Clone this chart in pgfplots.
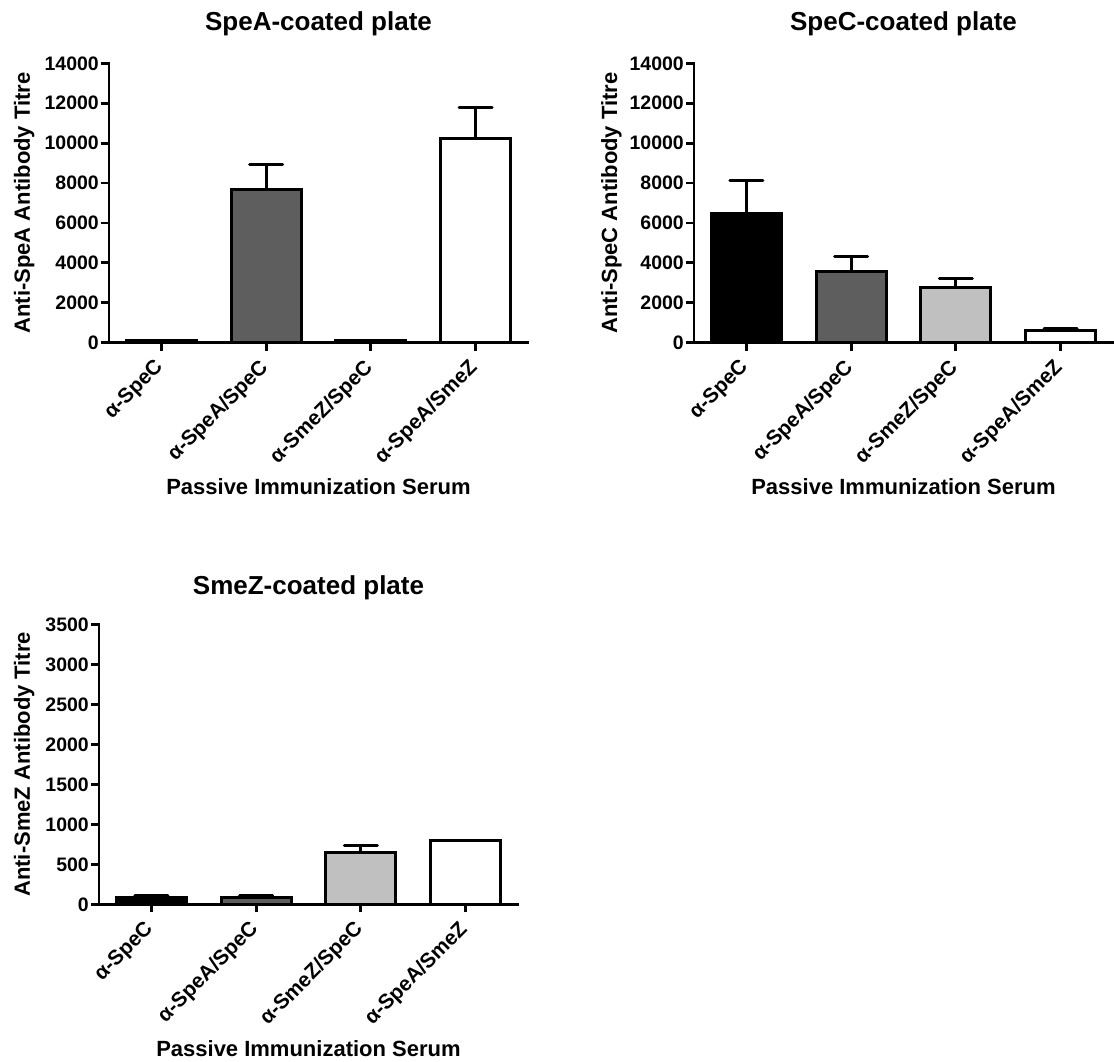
\documentclass[border=0pt]{standalone}
\usepackage{fontspec}
\setmainfont{Liberation Sans}
\usepackage{pgfplots}
\pgfplotsset{compat=1.18}
\definecolor{dg}{HTML}{5E5E5E}
\definecolor{lg}{HTML}{C0C0C0}

\pgfplotsset{
  panel/.style={
    scale only axis, width=419pt, height=279.4pt,
    axis lines=left, axis line style={-, line width=2.8pt, line cap=rect},
    xmin=-0.5, xmax=3.5, ymin=0,
    xtick={0,1,2,3},
    xticklabels={α-SpeC, α-SpeA/SpeC, α-SmeZ/SpeC, α-SpeA/SmeZ},
    tick style={line width=2.8pt, black},
    major tick length=8pt, tick align=outside,
    scaled y ticks=false,
    /pgf/number format/assume math mode=true,
    /pgf/number format/1000 sep={},
    yticklabel style={font=\fontsize{19.5}{19.5}\selectfont\bfseries, inner sep=2pt},
    xticklabel style={rotate=45, anchor=north east, inner sep=1pt, yshift=1.8pt, xshift=-9.6pt, font=\fontsize{20.8}{20.8}\selectfont\bfseries},
    title style={font=\fontsize{26}{26}\selectfont\bfseries, anchor=base},
    xlabel style={font=\fontsize{22}{22}\selectfont\bfseries, at={([yshift=-152pt]rel axis cs:0.5,0)}, anchor=base},
    ylabel style={font=\fontsize{22}{22}\selectfont\bfseries, anchor=base},
    xlabel={Passive Immunization Serum},
    clip=false,
  },
  bars/.style={ybar, bar shift=0pt, bar width=0.67, draw=black, line width=3pt,
    /pgfplots/error bars/y dir=plus, /pgfplots/error bars/y explicit,
    /pgfplots/error bars/error mark=|,
    /pgfplots/error bars/error bar style={line width=3pt, draw=black},
    /pgfplots/error bars/error mark options={line width=3pt, mark size=16.5pt, draw=black, line cap=round}},
}

\begin{document}
\begin{tikzpicture}
\path[use as bounding box] (0pt,0pt) rectangle (1114pt,-1061pt);

% Panel 1
\begin{axis}[panel, at={(109pt,-342.7pt)}, anchor=south west,
  ymax=14000, ytick={0,2000,4000,6000,8000,10000,12000,14000},
  title={SpeA-coated plate}, title style={at={([yshift=27pt]rel axis cs:0.5,1)}},
  ylabel={Anti-SpeA Antibody Titre}, ylabel style={at={([xshift=-79pt]rel axis cs:0,0.5)}}]
\addplot[bars, fill=black] coordinates {(0,100) +- (0,30)};
\addplot[bars, fill=dg] coordinates {(1,7700) +- (0,1250)};
\addplot[bars, fill=lg] coordinates {(2,100) +- (0,30)};
\addplot[bars, fill=white] coordinates {(3,10250) +- (0,1560)};
\end{axis}

% Panel 2
\begin{axis}[panel, at={(694pt,-342.7pt)}, anchor=south west,
  ymax=14000, ytick={0,2000,4000,6000,8000,10000,12000,14000},
  title={SpeC-coated plate}, title style={at={([yshift=27pt]rel axis cs:0.5,1)}},
  ylabel={Anti-SpeC Antibody Titre}, ylabel style={at={([xshift=-77pt]rel axis cs:0,0.5)}}]
\addplot[bars, fill=black] coordinates {(0,6450) +- (0,1700)};
\addplot[bars, fill=dg] coordinates {(1,3560) +- (0,750)};
\addplot[bars, fill=lg] coordinates {(2,2760) +- (0,450)};
\addplot[bars, fill=white] coordinates {(3,590) +- (0,110)};
\end{axis}

% Panel 3
\begin{axis}[panel, at={(99pt,-904.3pt)}, anchor=south west, height=280pt,
  ymax=3500, ytick={0,500,1000,1500,2000,2500,3000,3500},
  title={SmeZ-coated plate}, title style={at={([yshift=24pt]rel axis cs:0.5,1)}},
  ylabel={Anti-SmeZ Antibody Titre}, ylabel style={at={([xshift=-69pt]rel axis cs:0,0.5)}}]
\addplot[bars, fill=black] coordinates {(0,87) +- (0,20)};
\addplot[bars, fill=dg] coordinates {(1,87) +- (0,20)};
\addplot[bars, fill=lg] coordinates {(2,645) +- (0,96)};
\addplot[bars, fill=white] coordinates {(3,800)};
\end{axis}
\end{tikzpicture}
\end{document}
